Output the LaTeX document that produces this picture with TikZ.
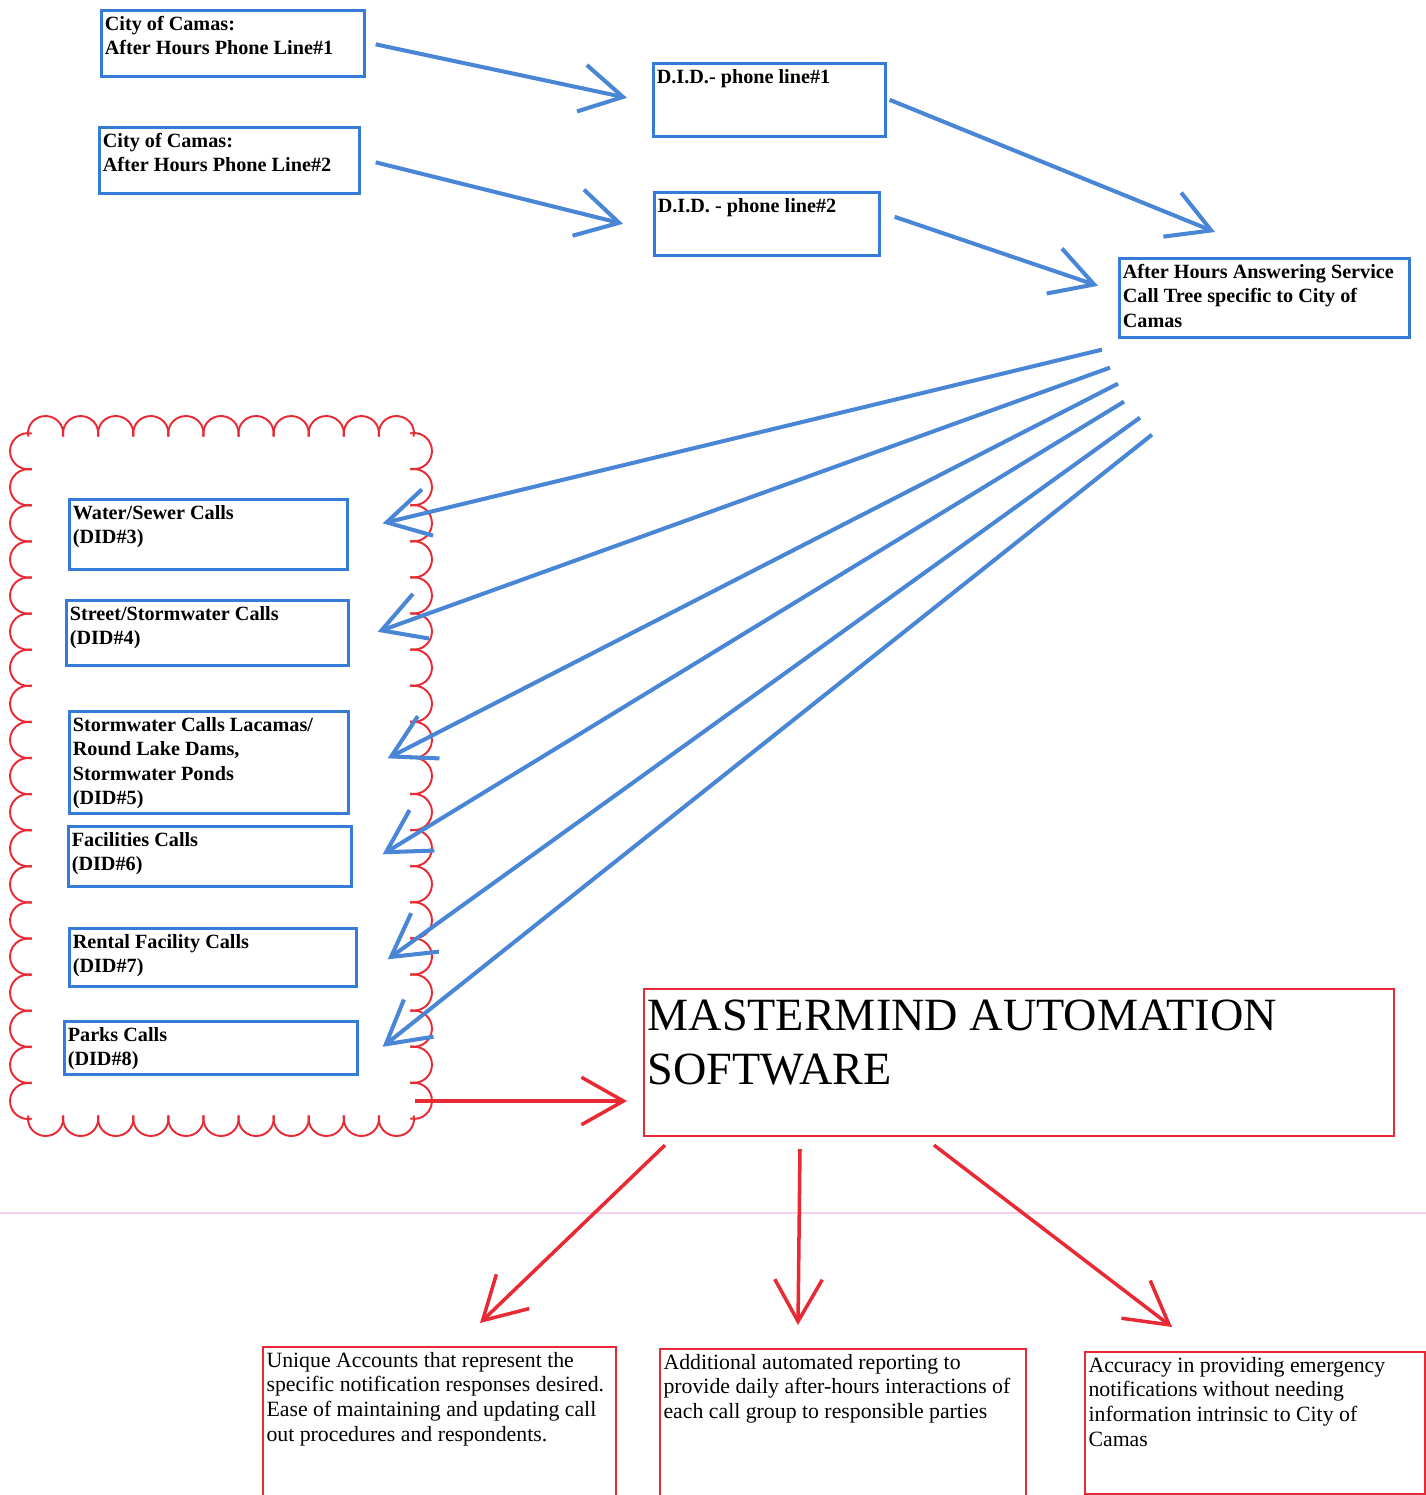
\documentclass[tikz,border=0pt]{standalone}
\usepackage{fontspec}
\setmainfont{Liberation Serif}
\usetikzlibrary{arrows.meta}
\definecolor{lineblue}{RGB}{74,134,214}
\definecolor{boxblue}{RGB}{52,124,216}
\definecolor{markred}{RGB}{232,42,52}
\definecolor{pagepink}{RGB}{244,210,240}
\newlength{\pxu}
\setlength{\pxu}{0.02cm}
\newcommand{\boxtxt}[3]{\parbox[t][\dimexpr#2\pxu-0.12cm\relax][t]{\dimexpr#1\pxu-0.14cm\relax}{\raggedright\strut#3}}
\tikzstyle{bluebox} = [rectangle, draw=boxblue, line width=1.5pt, anchor=north west,
    inner xsep=0.07cm, inner ysep=0.06cm, font=\fontsize{11.5}{13.9}\selectfont\bfseries]
\tikzstyle{redbox} = [rectangle, draw=markred, line width=1.2pt, anchor=north west,
    inner xsep=0.07cm, inner ysep=0.06cm, font=\fontsize{12.4}{14}\selectfont]
\tikzstyle{blueline} = [draw=lineblue, line width=2.3pt, -{Straight Barb[length=0.84cm, width=0.95cm]}]
\tikzstyle{redline} = [draw=markred, line width=2pt, -{Straight Barb[length=0.84cm, width=0.95cm]}]
\tikzstyle{cloudline} = [draw=markred, line width=1.1pt]

\begin{document}
\begin{tikzpicture}[x=0.02cm, y=-0.02cm]
	\useasboundingbox (0,0) rectangle (1426,1495);
	\draw [pagepink, line width=0.6pt] (0,1213) -- (1426,1213);
	
	% scalloped outline round the call groups
	\foreach \i in {0,...,10} {
		\pgfmathsetmacro{\cx}{45.545+\i*35.09}
		\draw [cloudline] (\cx,433) ++(168:17.545 and 17) arc [start angle=168, end angle=372, x radius=17.545, y radius=17];
		\pgfmathsetmacro{\cx}{396.455-\i*35.09}
		\draw [cloudline] (\cx,1119) ++(-12:17.545 and 17) arc [start angle=-12, end angle=192, x radius=17.545, y radius=17];
	}
	\foreach \i in {0,...,18} {
		\pgfmathsetmacro{\cy}{451.05+\i*36.1}
		\draw [cloudline] (414,\cy) ++(-102:18 and 18.05) arc [start angle=-102, end angle=102, x radius=18, y radius=18.05];
		\pgfmathsetmacro{\cy}{1100.95-\i*36.1}
		\draw [cloudline] (28,\cy) ++(78:18 and 18.05) arc [start angle=78, end angle=282, x radius=18, y radius=18.05];
	}
	\coordinate (cloudout) at (415,1101);
	
	\node [bluebox] (city1) at (100,9) {\boxtxt{263}{66}{City of Camas:\\After Hours Phone Line\#1}};
	\node [bluebox] (city2) at (98,126) {\boxtxt{260}{66}{City of Camas:\\After Hours Phone Line\#2}};
	\node [bluebox] (did1) at (652,62) {\boxtxt{232}{73}{D.I.D.- phone line\#1}};
	\node [bluebox] (did2) at (653,191) {\boxtxt{225}{63}{D.I.D. - phone line\#2}};
	\node [bluebox] (ahs) at (1118,257) {\boxtxt{290}{79}{After Hours Answering Service\\Call Tree specific to City of\\Camas}};
	
	\node [bluebox] (water) at (68,498) {\boxtxt{278}{70}{Water/Sewer Calls\\(DID\#3)}};
	\node [bluebox] (street) at (65,599) {\boxtxt{282}{65}{Street/Stormwater Calls\\(DID\#4)}};
	\node [bluebox] (storm) at (68,710) {\boxtxt{279}{102}{Stormwater Calls Lacamas/\\Round Lake Dams,\\Stormwater Ponds\\(DID\#5)}};
	\node [bluebox] (fac) at (67,825) {\boxtxt{283}{60}{Facilities Calls\\(DID\#6)}};
	\node [bluebox] (rental) at (68,927) {\boxtxt{287}{58}{Rental Facility Calls\\(DID\#7)}};
	\node [bluebox] (parks) at (63,1020) {\boxtxt{293}{53}{Parks Calls\\(DID\#8)}};
	
	\node [redbox, font=\fontsize{26.3}{31}\selectfont] (mm) at (643,988) {\boxtxt{750}{147}{MASTERMIND AUTOMATION\\SOFTWARE}};
	\node [redbox] (unique) at (262,1346) {\boxtxt{353}{152}{Unique Accounts that represent the\\specific notification responses desired.\\Ease of maintaining and updating call\\out procedures and respondents.}};
	\node [redbox] (addl) at (659,1348) {\boxtxt{366}{150}{Additional automated reporting to\\provide daily after-hours interactions of\\each call group to responsible parties}};
	\node [redbox] (accu) at (1084,1351) {\boxtxt{340}{142}{Accuracy in providing emergency\\notifications without needing\\information intrinsic to City of\\Camas}};
	
	\path [blueline] ([shift={(10,1)}]city1.east) -- ([shift={(-25,-2)}]did1.west);
	\path [blueline] ([shift={(15,2)}]city2.east) -- ([shift={(-30,0)}]did2.west);
	\path [blueline] ([shift={(3,0)}]did1.east) -- ([shift={(97,-25)}]ahs.north west);
	\path [blueline] ([shift={(14,-7)}]did2.east) -- ([shift={(-20,-12)}]ahs.west);
	
	\path [blueline] ([shift={(-16,11)}]ahs.south west) -- ([shift={(34,-11)}]water.east);
	\path [blueline] ([shift={(-8,29)}]ahs.south west) -- ([shift={(28,-1)}]street.east);
	\path [blueline] ([shift={(0,45)}]ahs.south west) -- ([shift={(38,-4)}]storm.east);
	\path [blueline] ([shift={(6,63)}]ahs.south west) -- ([shift={(30,-2)}]fac.east);
	\path [blueline] ([shift={(22,79)}]ahs.south west) -- ([shift={(30,2)}]rental.east);
	\path [blueline] ([shift={(34,96)}]ahs.south west) -- ([shift={(24,-1)}]parks.east);
	
	\path [redline, shorten >=0.32cm] (cloudout) -- (mm.west |- cloudout);
	\path [redline] ([shift={(22,8)}]mm.south west) -- ([shift={(218,-23)}]unique.north west);
	\path [redline] ([shift={(157,12)}]mm.south west) -- ([shift={(139,-23)}]addl.north west);
	\path [redline] ([shift={(291,8)}]mm.south west) -- ([shift={(88,-24)}]accu.north west);
\end{tikzpicture}
\end{document}
